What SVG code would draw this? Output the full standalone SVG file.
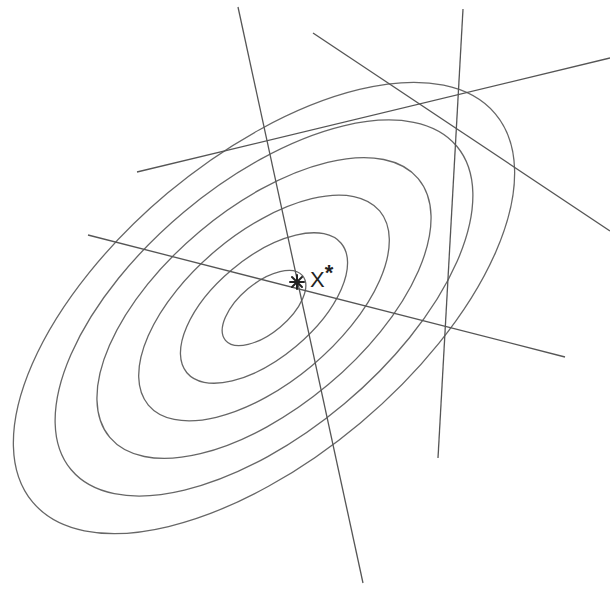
<svg xmlns="http://www.w3.org/2000/svg" width="610" height="590" viewBox="0 0 610 590">
<style>
.contour{fill:none;stroke:#666;stroke-width:1.3}
.ln{stroke:#555;stroke-width:1.3;fill:none}
.mk{stroke:#222;stroke-width:2;stroke-linecap:round}
.lbl{font-family:"Liberation Sans",Arial,sans-serif;fill:#222}
</style>
<rect width="610" height="590" fill="#fff"/>
<g id="contours" transform="rotate(-40 264 308)">
<ellipse class="contour" cx="264" cy="308" rx="50.3" ry="25"/>
<ellipse class="contour" cx="264" cy="308" rx="100.7" ry="50"/>
<ellipse class="contour" cx="264" cy="308" rx="151" ry="75"/>
<ellipse class="contour" cx="264" cy="308" rx="201.3" ry="100"/>
<ellipse class="contour" cx="264" cy="308" rx="251.7" ry="125"/>
<ellipse class="contour" cx="264" cy="308" rx="302" ry="150"/>
</g>
<g id="lines">
<line class="ln" x1="238" y1="7" x2="363" y2="583"/>
<line class="ln" x1="463" y1="9" x2="438" y2="458"/>
<line class="ln" x1="313" y1="33" x2="610" y2="231"/>
<line class="ln" x1="137" y1="172" x2="610" y2="58"/>
<line class="ln" x1="88" y1="235" x2="565" y2="357"/>
</g>
<g id="optimum">
<line class="mk" x1="290" y1="282" x2="304" y2="282"/>
<line class="mk" x1="297" y1="275" x2="297" y2="289"/>
<line class="mk" x1="292" y1="277" x2="302" y2="287"/>
<line class="mk" x1="302" y1="277" x2="292" y2="287"/>
<text class="lbl" x="310" y="287" font-size="22">X<tspan dy="-7" font-size="22" font-weight="bold">*</tspan></text>
</g>
</svg>
